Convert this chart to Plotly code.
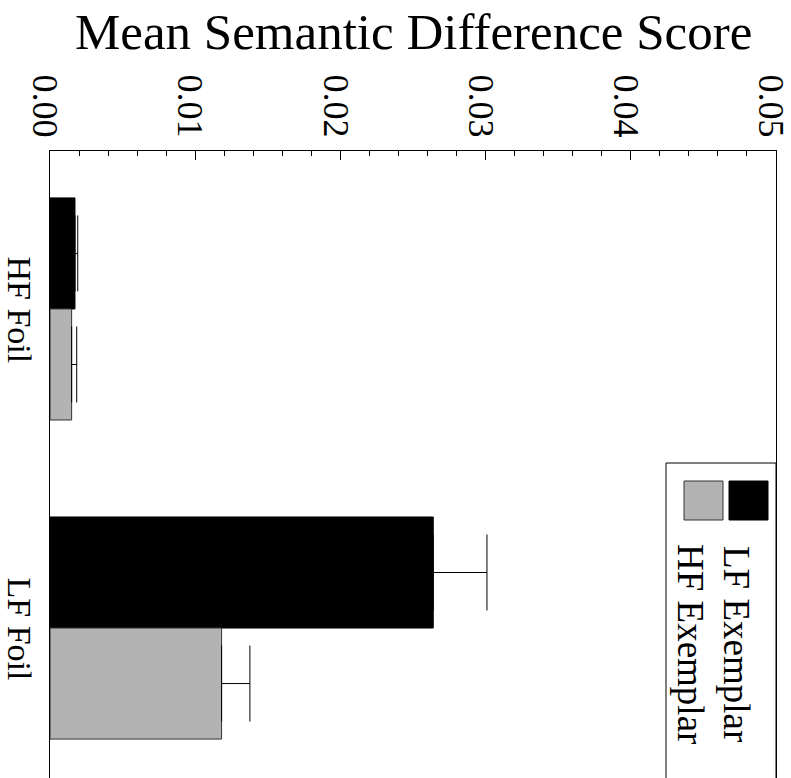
import plotly.graph_objects as go

categories = ["HF Foil", "LF Foil"]
series_names = ["LF Exemplar", "HF Exemplar"]
lf_exemplar = [0.00172, 0.0264]
hf_exemplar = [0.00149, 0.01182]
lf_exemplar_err = [0.00019, 0.0037]
hf_exemplar_err = [0.00035, 0.00195]
tick_vals = [0.00, 0.01, 0.02, 0.03, 0.04, 0.05]
tick_text = ["0.00", "0.01", "0.02", "0.03", "0.04", "0.05"]
axis_title = "Mean Semantic Difference Score"

W, H = 791, 778
L, R, T, B = 50, 15, 151, 0
pw, ph = W - L - R, H - T - B

def px(x):
    return (x - L) / pw

def py(y):
    return (H - B - y) / ph

FONT = "Liberation Serif, Times New Roman, serif"

fig = go.Figure()
fig.add_trace(go.Bar(
    y=categories, x=lf_exemplar, orientation="h", name=series_names[0],
    marker=dict(color="black", line=dict(color="black", width=1)),
    error_x=dict(type="data", array=lf_exemplar_err, arrayminus=[0, 0], symmetric=False,
                 color="black", thickness=1, width=38),
))
fig.add_trace(go.Bar(
    y=categories, x=hf_exemplar, orientation="h", name=series_names[1],
    marker=dict(color="#b3b3b3", line=dict(color="#333333", width=1)),
    error_x=dict(type="data", array=hf_exemplar_err, arrayminus=[0, 0], symmetric=False,
                 color="black", thickness=1, width=38),
))

fig.update_layout(
    width=W, height=H,
    margin=dict(l=L, r=R, t=T, b=B, autoexpand=False),
    paper_bgcolor="white", plot_bgcolor="white",
    barmode="group", bargap=0.304, bargroupgap=0,
    showlegend=False,
    font=dict(family=FONT, color="black"),
)
fig.update_xaxes(
    side="top", range=[0, 0.05001], tickmode="array", tickvals=tick_vals, ticktext=tick_text,
    tickangle=90, tickfont=dict(size=36, family=FONT, color="black"),
    ticks="inside", ticklen=9, tickcolor="black", tickwidth=1,
    minor=dict(dtick=0.002, ticks="inside", ticklen=5, tickcolor="black", tickwidth=1, showgrid=False),
    showline=True, linecolor="black", linewidth=1, mirror=False, automargin=False,
    showgrid=False, zeroline=False, ticklabelstandoff=0, ticklabelshift=-5,
    ticklabeloverflow="allow",
)
fig.update_yaxes(
    type="category", range=[1.47, -0.495],
    tickangle=90, tickfont=dict(size=34, family=FONT, color="black"),
    ticks="", showline=True, linecolor="black", linewidth=1, mirror=True, automargin=False,
    showgrid=False, zeroline=False, ticklabelshift=-6,
)

# title
fig.add_annotation(text=axis_title, xref="paper", yref="paper", x=px(413), y=py(32),
                   showarrow=False, font=dict(size=51, family=FONT, color="black"),
                   xanchor="center", yanchor="middle")

# legend box
fig.add_shape(type="rect", xref="paper", yref="paper", x0=px(666), x1=1.0, y0=-0.1, y1=py(463),
              line=dict(color="black", width=1), fillcolor="rgba(0,0,0,0)")
fig.add_shape(type="rect", xref="paper", yref="paper", x0=px(729), x1=px(768), y0=py(520), y1=py(481),
              line=dict(color="black", width=1), fillcolor="black")
fig.add_shape(type="rect", xref="paper", yref="paper", x0=px(684), x1=px(723), y0=py(520), y1=py(481),
              line=dict(color="#333333", width=1), fillcolor="#b3b3b3")
fig.add_annotation(text=series_names[0], xref="paper", yref="paper", x=px(737), y=py(644),
                   showarrow=False, textangle=90, font=dict(size=37, family=FONT, color="black"),
                   xanchor="center", yanchor="middle")
fig.add_annotation(text=series_names[1], xref="paper", yref="paper", x=px(691), y=py(644),
                   showarrow=False, textangle=90, font=dict(size=37, family=FONT, color="black"),
                   xanchor="center", yanchor="middle")

fig.write_html("out.html", config={"displayModeBar": False},
               post_script="document.body.style.margin='0';document.body.style.overflow='hidden';")
